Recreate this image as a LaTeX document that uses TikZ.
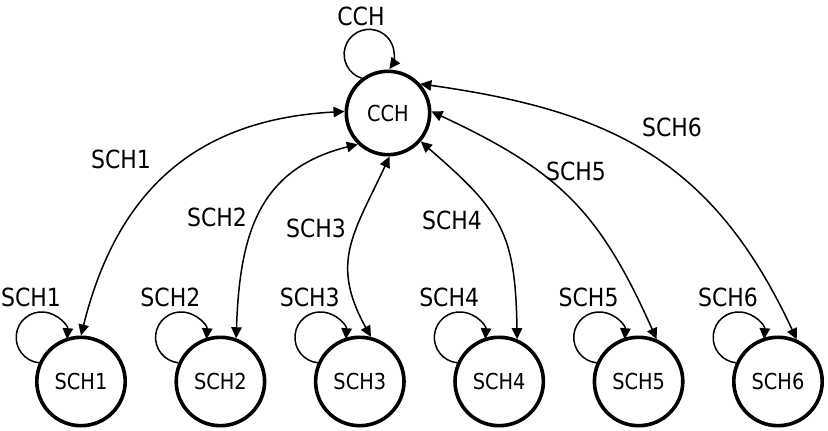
\documentclass[tikz,border=0pt]{standalone}
\usepackage{fontspec}
\setmainfont{DejaVu Sans}[FakeStretch=0.88]
\usepackage{tikz}
\usetikzlibrary{arrows.meta,calc,positioning}

\begin{document}
\begin{tikzpicture}[x=1pt,y=1pt,>={Triangle[length=11pt,width=10.5pt]},
  chan/.style={circle,draw,line width=3.6pt,minimum size=88.4pt,inner sep=0pt,
    font=\fontsize{22}{24}\selectfont},
  lbl/.style={inner sep=0pt,font=\fontsize{25}{28}\selectfont},
  link/.style={<->,line width=1.5pt},
  selfloop/.style={->,line width=1.5pt}]
  \useasboundingbox (0,0) rectangle (828,431);
  % Kontrolkanal oeverst
  \node[chan,minimum size=83.4pt] (cch) at (388,318) {CCH};
  \draw[selfloop] (cch.127) arc[start angle=253,end angle=-36,radius=25];
  \node[lbl] (cchloop) at (361,414.5) {CCH};
  % Servicekanaler forneden
  \foreach \i in {1,...,6}{
    \node[chan] (sch\i) at ({81+139.4*(\i-1)},49.5) {SCH\i};
    \draw[selfloop] (sch\i.156) arc[start angle=264,end angle=-4,radius=25.5];
    \node[lbl] (schloop\i) at ({31+139.4*(\i-1)},133.5) {SCH\i};
  }
  % Skift mellem CCH og SCH
  \draw[link] (sch1.90) to[out=76,in=183,looseness=1.1] (cch.178);
  \draw[link] (sch2.70) to[out=88,in=194,looseness=1.15] (cch.226);
  \draw[link] (sch3.76) to[out=119,in=245,looseness=1.2] (cch.272);
  \draw[link] (sch4.67) to[out=91,in=-41,looseness=1.25] (cch.319);
  \draw[link] (sch5.67) to[out=114,in=-25,looseness=1.12] (cch.2);
  \draw[link] (sch6.66) to[out=115,in=-8,looseness=1.1] (cch.42);
  % Kantetiketter
  \node[lbl] (sw1) at (121,272) {SCH1};
  \node[lbl] (sw2) at (217,213.5) {SCH2};
  \node[lbl] (sw3) at (316,202.5) {SCH3};
  \node[lbl] (sw4) at (452,211) {SCH4};
  \node[lbl] (sw5) at (576,260) {SCH5};
  \node[lbl] (sw6) at (672,303.5) {SCH6};
\end{tikzpicture}
\end{document}
